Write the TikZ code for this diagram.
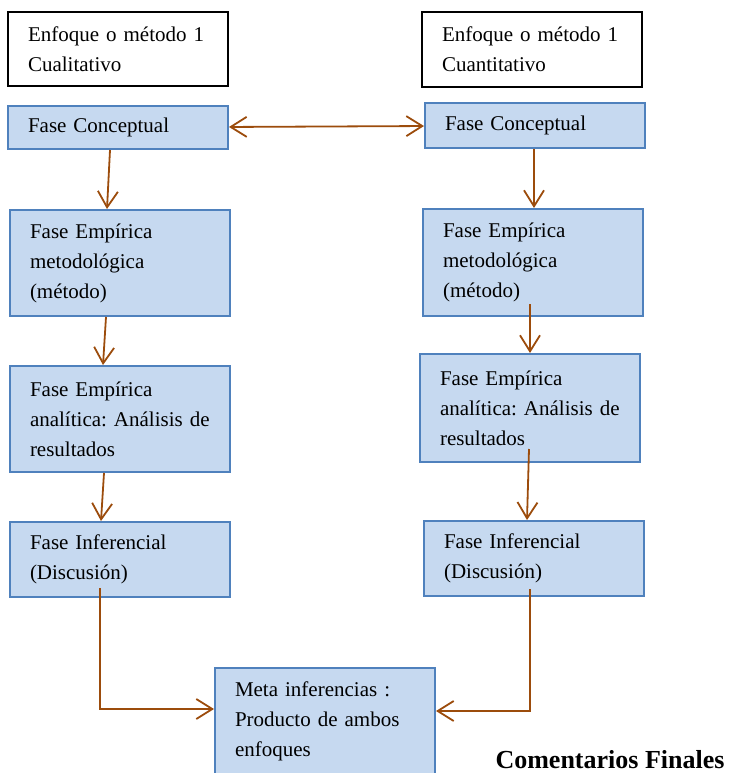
\documentclass[tikz,border=0pt]{standalone}
\usepackage{fontspec}
\setmainfont{Liberation Serif}
\usetikzlibrary{arrows.meta}
\definecolor{phasefill}{RGB}{198,217,240}
\definecolor{phaseline}{RGB}{79,129,189}
\definecolor{linkbrown}{RGB}{156,76,12}
\frenchspacing

\begin{document}
\begin{tikzpicture}[x=1pt, y=-1pt,
    headbox/.style={draw=black, line width=2pt, fill=white, minimum width=220pt, text width=180pt, inner xsep=20pt, align=left, font=\fontsize{21}{30}\selectfont},
    phasebox/.style={draw=phaseline, line width=2pt, fill=phasefill, minimum width=220pt, text width=180pt, inner xsep=20pt, align=left, font=\fontsize{21}{30}\selectfont},
    link/.style={draw=linkbrown, line width=1.8pt, >={Straight Barb[length=16pt, width=20pt, line width=1.8pt]}}]
    \useasboundingbox (0,0) rectangle (731,773);
    \clip (0,0) rectangle (731,772);

    % encabezados
    \node[headbox, minimum height=74pt] (headL) at (118,49) {Enfoque o método 1\\Cualitativo};
    \node[headbox, minimum height=75pt] (headR) at (532,49.5) {Enfoque o método 1\\Cuantitativo};

    % fases cualitativas
    \node[phasebox, minimum height=43pt] (concL) at (118,127.5) {Fase Conceptual};
    \node[phasebox, minimum height=106pt] (metL) at (120,263) {Fase Empírica\\metodológica\\(método)};
    \node[phasebox, minimum height=106pt] (anaL) at (120,419) {Fase Empírica\\analítica: Análisis de\\resultados};
    \node[phasebox, minimum height=75pt] (infL) at (120,559.5) {Fase Inferencial\\(Discusión)};

    % fases cuantitativas
    \node[phasebox, minimum height=45pt] (concR) at (535,125.5) {Fase Conceptual};
    \node[phasebox, minimum height=107pt] (metR) at (533,262.5) {Fase Empírica\\metodológica\\(método)};
    \node[phasebox, minimum height=108pt] (anaR) at (530,408) {Fase Empírica\\analítica: Análisis de\\resultados};
    \node[phasebox, minimum height=75pt] (infR) at (534,558.5) {Fase Inferencial\\(Discusión)};

    % meta inferencias
    \node[phasebox, minimum width=216pt, minimum height=106pt] (meta) at (325,721) {Meta inferencias :\\Producto de ambos\\enfoques};
    \node[font=\fontsize{26}{30}\selectfont\bfseries, inner sep=0pt, anchor=base] (final) at (610,768) {Comentarios Finales};

    \draw[link, <->] (concL) -- (concR);

    \draw[link, ->] ([xshift=-8pt]concL.south) -- ([xshift=-13pt]metL.north);
    \draw[link, ->] ([xshift=-14pt]metL.south) -- ([xshift=-17pt]anaL.north);
    \draw[link, ->] ([xshift=-16pt]anaL.south) -- ([xshift=-19pt]infL.north);

    \draw[link, ->] ([xshift=-1pt]concR.south) -- ([xshift=1pt]metR.north);
    \draw[link, ->] ([xshift=-3pt, yshift=13pt]metR.south) -- (anaR.north);
    \draw[link, ->] ([xshift=-1pt, yshift=14pt]anaR.south) -- ([xshift=-7pt]infR.north);

    \draw[link, ->] ([xshift=-20pt, yshift=10pt]infL.south) |- ([yshift=12pt]meta.west);
    \draw[link, ->] ([xshift=-4pt, yshift=8pt]infR.south) |- ([yshift=10pt]meta.east);
\end{tikzpicture}
\end{document}
